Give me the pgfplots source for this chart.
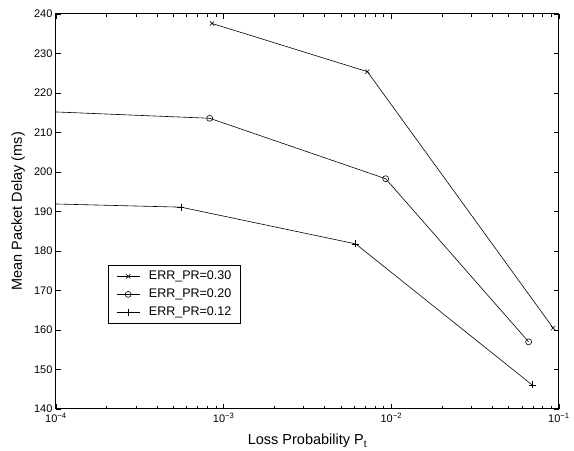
\documentclass[border=0pt]{standalone}
\usepackage{pgfplots}
\pgfplotsset{compat=1.18}
\usepackage{fontspec}
\setmainfont{Liberation Sans}
\begin{document}
\begin{tikzpicture}
\begin{semilogxaxis}[
    scale only axis,
    width=503pt, height=395pt,
    xmin=1e-4, xmax=1e-1,
    ymin=140, ymax=240,
    xtick={1e-4,1e-3,1e-2,1e-1},
    xticklabels={10\textsuperscript{−4},10\textsuperscript{−3},10\textsuperscript{−2},10\textsuperscript{−1}},
    ytick={140,150,...,240},
    tick align=inside,
    major tick length=5pt,
    minor tick length=3pt,
    axis line style={line width=1pt},
    tick style={black, line width=0.6pt},
    /pgf/number format/assume math mode=true,
    ticklabel style={font=\fontsize{11}{12}\selectfont},
    xticklabel style={yshift=-1pt},
    xlabel={Loss Probability P\textsubscript{t}},
    ylabel={Mean Packet Delay (ms)},
    label style={font=\fontsize{14.5}{16}\selectfont},
    xlabel style={at={(axis description cs:0.5,-0.0911)}, anchor=base},
    ylabel style={at={(axis description cs:-0.0755,0.5)}, anchor=center},
    legend style={at={(0.1034,0.3646)}, anchor=north west,
        font=\fontsize{12.5}{14}\selectfont, draw=black, line width=0.8pt,
        row sep=4pt, column sep=8pt, inner xsep=8pt, inner ysep=4pt,
        nodes={inner sep=1pt, text height=9pt, text depth=3pt}},
    legend cell align=left,
    legend image code/.code={
        \draw[#1, line width=0.6pt, mark indices={2}] plot coordinates {(0pt,0pt) (11.5pt,0pt) (23pt,0pt)};},
]
\addplot[black, line width=0.6pt, mark=x, mark size=3pt]
coordinates {(8.53e-4,237.6) (7.2e-3,225.4) (0.0923,160.5)};
\addlegendentry{ERR\_PR=0.30}
\addplot[black, line width=0.6pt, mark=o, mark size=3pt, mark indices={2,3,4}]
coordinates {(1e-4,215.2) (8.25e-4,213.6) (9.25e-3,198.3) (0.0659,157.0)};
\addlegendentry{ERR\_PR=0.20}
\addplot[black, line width=0.6pt, mark=+, mark size=3.5pt, mark indices={2,3,4}]
coordinates {(1e-4,191.9) (5.56e-4,191.1) (6.13e-3,181.8) (0.0691,146.1)};
\addlegendentry{ERR\_PR=0.12}
\end{semilogxaxis}
\pgfresetboundingbox
\path ([xshift=-56pt,yshift=-42pt]current axis.south west) rectangle ([xshift=15pt,yshift=14pt]current axis.north east);
\end{tikzpicture}
\end{document}
